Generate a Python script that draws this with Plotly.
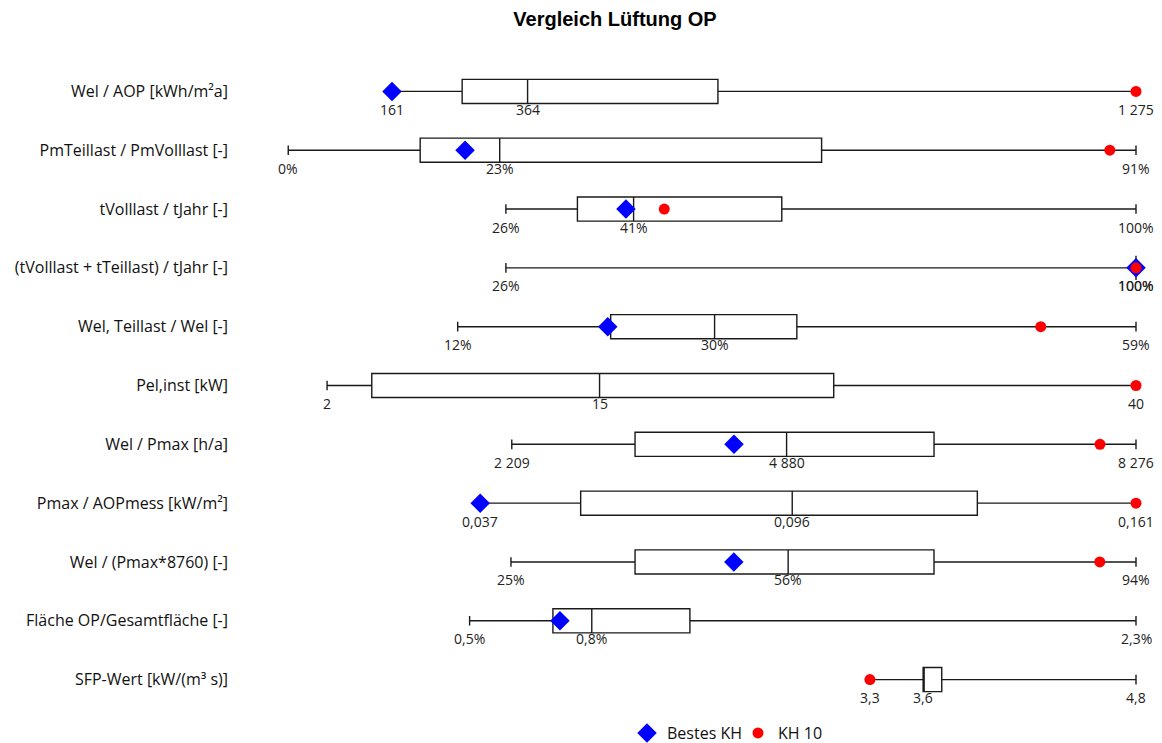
import plotly.graph_objects as go

# Kennzahlen (oben nach unten)
labels = [
    "Wel / AOP [kWh/m²a]",
    "PmTeillast / PmVolllast [-]",
    "tVolllast / tJahr [-]",
    "(tVolllast + tTeillast) / tJahr [-]",
    "Wel, Teillast / Wel [-]",
    "Pel,inst [kW]",
    "Wel / Pmax [h/a]",
    "Pmax / AOPmess [kW/m²]",
    "Wel / (Pmax*8760) [-]",
    "Fläche OP/Gesamtfläche [-]",
    "SFP-Wert [kW/(m³ s)]",
]

# Verteilung je Kennzahl in Originaleinheiten
minimum = [161, 0.4, 26, 26, 12, 2, 2209, 0.037, 25, 0.5, 3.3]
quartil1 = [266, 14.5, 34.4, 100, 22.6, 4.1, 3407, 0.056, 38.7, 0.725, 3.6]
median = [364, 23, 41, 100, 29.8, 14.8, 4880, 0.096, 55.6, 0.83, 3.6]
quartil3 = [649, 57.4, 58.4, 100, 35.5, 25.8, 6313, 0.131, 71.7, 1.095, 3.705]
maximum = [1275, 91, 100, 100, 59, 40, 8276, 0.161, 94, 2.3, 4.8]

# Vergleichshäuser
bestes_kh = [161, 19.3, 40.1, 100, 22.4, None, 4369, 0.037, 49.6, 0.744, None]
kh_10 = [1275, 88.2, 44.6, 100, 52.4, 40, 7926, 0.161, 90.0, None, 3.3]

# Beschriftungsformat je Zeile
decimals = [0, 0, 0, 0, 0, 0, 0, 3, 0, 1, 1]
suffix = ["", "%", "%", "%", "%", "", "", "", "%", "%", ""]


def norm(vals):
    return [None if v is None else v / m for v, m in zip(vals, maximum)]


def fmt(v, d, s):
    t = f"{v:,.{d}f}".replace(",", " ").replace(".", ",")
    return t + s


fig = go.Figure()

fig.add_trace(go.Box(
    y=labels,
    q1=norm(quartil1),
    median=norm(median),
    q3=norm(quartil3),
    lowerfence=norm(minimum),
    upperfence=norm(maximum),
    orientation="h",
    fillcolor="white",
    line=dict(color="#1a1a1a", width=1.4),
    whiskerwidth=0.4,
    width=0.41,
    boxpoints=False,
    showlegend=False,
    hoverinfo="skip",
))

fig.add_trace(go.Scatter(
    x=norm(bestes_kh), y=labels, mode="markers", name="Bestes KH",
    marker=dict(symbol="diamond", size=15, color="#0000FF"),
    cliponaxis=False,
))
fig.add_trace(go.Scatter(
    x=norm(kh_10), y=labels, mode="markers", name="KH 10",
    marker=dict(symbol="circle", size=11, color="#FF0000"),
    cliponaxis=False,
))

annotations = []
for i, lab in enumerate(labels):
    for v in (minimum[i], median[i], maximum[i]):
        annotations.append(dict(
            x=v / maximum[i], y=lab, xref="x", yref="y",
            text=fmt(v, decimals[i], suffix[i]),
            showarrow=False, yshift=-18,
            font=dict(family="Open Sans", size=14, color="#222222"),
        ))

# Pixelgeometrie: Wert 0 bei 284.5 px, Maximum bei 1136 px
left_px, right_px, zero_px, span_px = 232, 1152, 284.5, 851.5
x0 = -(zero_px - left_px) / span_px
x1 = (right_px - zero_px) / span_px

fig.update_layout(
    width=1162, height=743,
    margin=dict(l=left_px, r=1162 - right_px, t=61.5, b=33.5, autoexpand=False),
    paper_bgcolor="white", plot_bgcolor="white",
    title=dict(
        text="<b>Vergleich Lüftung OP</b>",
        x=615 / 1162, xref="container", xanchor="center",
        y=1 - 19 / 743, yref="container", yanchor="middle",
        font=dict(family="Liberation Sans", size=20, color="#000000"),
    ),
    xaxis=dict(visible=False, range=[x0, x1]),
    yaxis=dict(
        type="category", range=[len(labels) - 0.5, -0.5], showgrid=False,
        zeroline=False, showline=False, ticks="", ticklabelstandoff=3,
        tickfont=dict(family="Open Sans", size=16, color="#111111"),
    ),
    legend=dict(
        orientation="h", xref="container", x=627 / 1162, xanchor="left",
        yref="container", y=10 / 743, yanchor="middle",
        font=dict(family="Open Sans", size=16, color="#111111"),
        itemwidth=30, entrywidth=66,
    ),
    annotations=annotations,
    font=dict(family="Open Sans"),
)

fig.write_html("out.html")
